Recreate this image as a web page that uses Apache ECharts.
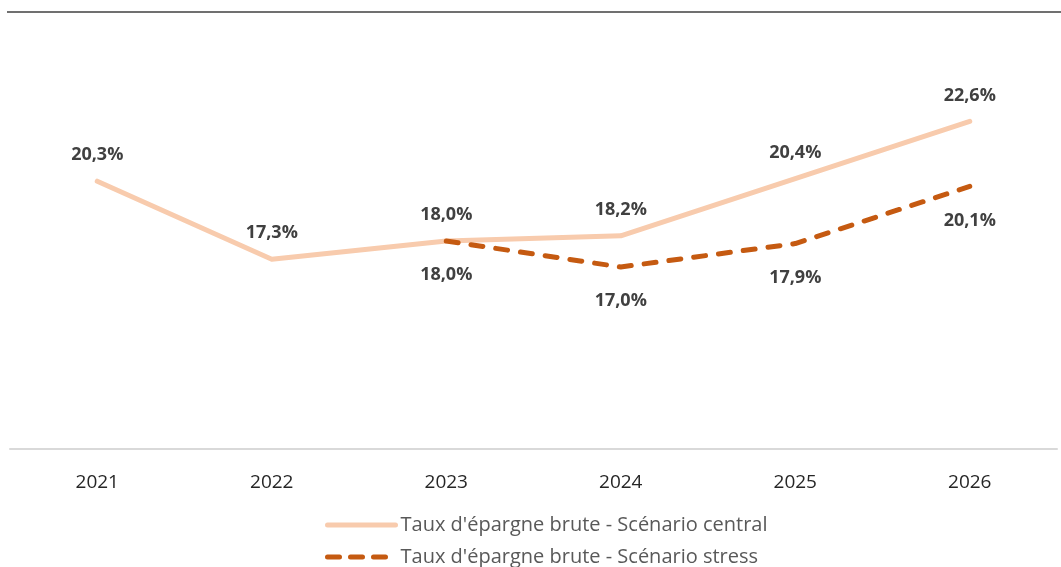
<!DOCTYPE html>
<html>
<head>
<meta charset="utf-8">
<script src="https://cdn.jsdelivr.net/npm/echarts@6/dist/echarts.min.js"></script>
<style>
  html, body { margin: 0; padding: 0; background: #fff; }
  #chart { width: 1061px; height: 567px; }
</style>
</head>
<body>
<div id="chart"></div>
<script>
var years = ['2021', '2022', '2023', '2024', '2025', '2026']
var centralName = "Taux d'épargne brute - Scénario central"
var stressName = "Taux d'épargne brute - Scénario stress"
var centralValues = [20.3, 17.3, 18.0, 18.2, 20.4, 22.6]
var stressValues = [null, null, 18.0, 17.0, 17.9, 20.1]

var fontFamily = '"Open Sans", "Noto Sans", sans-serif'

function pct(p) {
  return p.value.toFixed(1).replace('.', ',') + '%'
}

var chart = echarts.init(document.getElementById('chart'))
chart.setOption({
  animation: false,
  graphic: [{
    type: 'line',
    shape: { x1: 7, y1: 12, x2: 1061, y2: 12 },
    style: { stroke: '#404040', lineWidth: 1.5 }
  }],
  grid: {
    left: 10,
    right: 4,
    top: 59,
    bottom: 118
  },
  legend: {
    orient: 'vertical',
    left: 325,
    top: 515,
    padding: 0,
    itemWidth: 68,
    itemHeight: 14,
    itemGap: 12,
    itemStyle: { opacity: 0 },
    textStyle: { color: '#595959', fontSize: 20, fontFamily: fontFamily },
    data: [
      { name: centralName, lineStyle: { width: 5, cap: 'round' } },
      { name: stressName, lineStyle: { width: 5, type: [12, 11], cap: 'round' } }
    ]
  },
  xAxis: {
    type: 'category',
    data: years,
    boundaryGap: true,
    axisLine: { lineStyle: { color: '#d9d9d9', width: 2 } },
    axisTick: { show: false },
    axisLabel: { color: '#262626', fontSize: 19, fontFamily: fontFamily, margin: 24 }
  },
  yAxis: {
    type: 'value',
    min: 10,
    max: 25,
    show: false,
    splitLine: { show: false }
  },
  series: [{
    name: centralName,
    type: 'line',
    data: centralValues,
    symbol: 'circle',
    symbolSize: 0,
    showSymbol: true,
    color: '#F8CBAD',
    lineStyle: { color: '#F8CBAD', width: 5, cap: 'round', join: 'round' },
    label: {
      show: true,
      position: 'top',
      distance: 17,
      formatter: pct,
      color: '#404040',
      fontSize: 18,
      fontWeight: 'bold',
      fontFamily: fontFamily
    },
    z: 2
  }, {
    name: stressName,
    type: 'line',
    data: stressValues,
    symbol: 'circle',
    symbolSize: 0,
    showSymbol: true,
    color: '#C55A11',
    lineStyle: { color: '#C55A11', width: 5, type: [12, 13], cap: 'round', join: 'round' },
    label: {
      show: true,
      position: 'bottom',
      distance: 25,
      formatter: pct,
      color: '#404040',
      fontSize: 18,
      fontWeight: 'bold',
      fontFamily: fontFamily
    },
    z: 3
  }]
})
</script>
</body>
</html>
